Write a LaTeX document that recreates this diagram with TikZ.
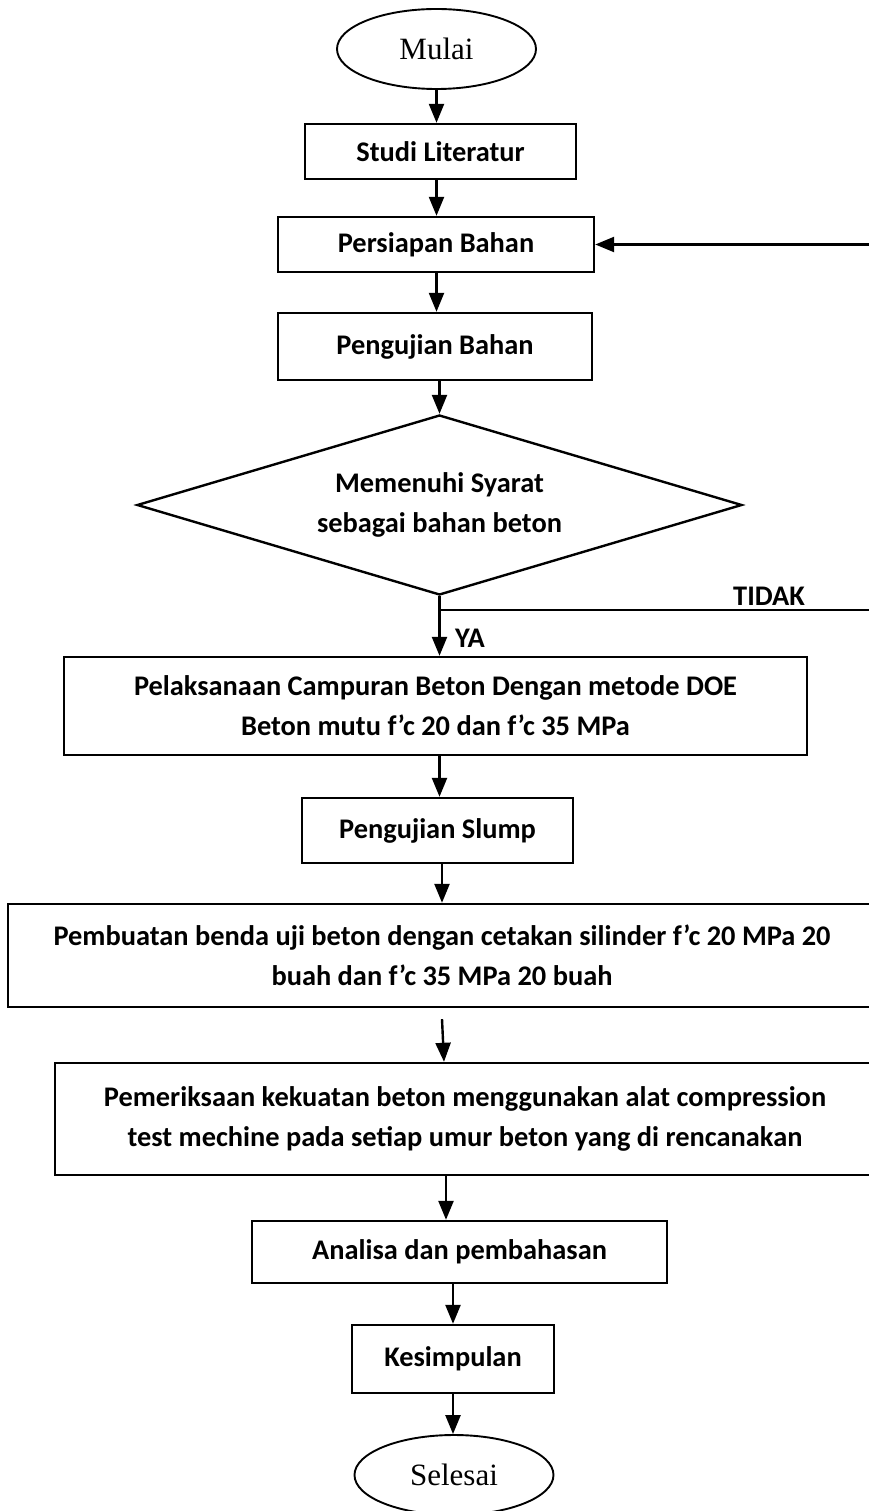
\documentclass[tikz,border=0pt]{standalone}
\usepackage{fontspec}
\setmainfont{Carlito}
\newfontfamily\ujungfont{Liberation Serif}
\usetikzlibrary{arrows.meta}
\usetikzlibrary{shapes.geometric}
\usetikzlibrary{positioning}

\begin{document}
\begin{tikzpicture}[x=1pt,y=-1pt,line width=2.4pt,>={Triangle[length=19pt,width=15pt]},
    proses/.style={draw,rectangle,inner sep=0pt,align=center,
      font=\fontsize{28.4}{40}\selectfont\bfseries},
    ujung/.style={draw,ellipse,line width=1.9pt,inner sep=0pt,minimum width=199pt,minimum height=80pt,
      font=\fontsize{31}{36}\selectfont\ujungfont},
    label/.style={inner sep=0pt,font=\fontsize{28.4}{32}\selectfont\bfseries}]
    \useasboundingbox (0,0) rectangle (868,1511);

    \node[ujung] (mulai) at (436.5,49) {Mulai};
    \node[proses,minimum width=271pt,minimum height=55pt] (studi) at (440.5,151.5) {Studi Literatur};
    \node[proses,minimum width=316pt,minimum height=55pt] (persiapan) at (436,244.5) {Persiapan Bahan};
    \node[proses,minimum width=314pt,minimum height=67pt] (pengujian) at (435,346.5) {Pengujian Bahan};
    \node[draw,diamond,inner sep=0pt,aspect=3.36,minimum width=605pt,minimum height=180pt,align=center,
      font=\fontsize{28.4}{40}\selectfont\bfseries] (syarat) at (439.5,505) {Memenuhi Syarat\\sebagai bahan beton};
    \node[proses,minimum width=743pt,minimum height=98pt] (pelaksanaan) at (435.5,706)
      {Pelaksanaan Campuran Beton Dengan metode DOE\\Beton mutu f’c 20 dan f’c 35 MPa};
    \node[proses,minimum width=271pt,minimum height=65pt] (slump) at (437.5,830.5) {Pengujian Slump};
    \node[proses,minimum width=868pt,minimum height=103pt] (pembuatan) at (442,955.5)
      {Pembuatan benda uji beton dengan cetakan silinder f’c 20 MPa 20\\buah dan f’c 35 MPa 20 buah};
    \node[proses,minimum width=820pt,minimum height=112pt] (pemeriksaan) at (465,1119)
      {Pemeriksaan kekuatan beton menggunakan alat compression\\test mechine pada setiap umur beton yang di rencanakan};
    \node[proses,minimum width=415pt,minimum height=62pt] (analisa) at (459.5,1252) {Analisa dan pembahasan};
    \node[proses,minimum width=202pt,minimum height=68pt] (kesimpulan) at (453,1359) {Kesimpulan};
    \node[ujung] (selesai) at (454,1475) {Selesai};

    \coordinate (cabang) at (440,610);
    \coordinate (tepi) at (874,610);
    \node[label] (tidak) at (769,596) {TIDAK};
    \node[label,anchor=west] (ya) at (454,638) {YA};

    \draw[->] (mulai.south) -- (mulai.south |- studi.north);
    \draw[->] (studi.south -| mulai) -- (persiapan.north -| mulai);
    \draw[->] (persiapan.south -| mulai) -- (pengujian.north -| mulai);
    \draw[->] (pengujian.south -| syarat) -- (syarat.north);
    \draw[->] (syarat.south) -- (syarat.south |- pelaksanaan.north);
    \draw (cabang) -- (tepi);
    \draw[->] (tepi) |- (persiapan.east);
    \draw[->] (pelaksanaan.south -| syarat) -- (slump.north -| syarat);
    \draw[->] (slump.south -| pembuatan) -- (pembuatan.north);
    \draw[->] ([yshift=-11pt]pembuatan.south) -- ([xshift=2pt]pembuatan.south |- pemeriksaan.north);
    \draw[->] (pemeriksaan.south -| 446,0) -- (analisa.north -| 446,0);
    \draw[->] (analisa.south -| kesimpulan) -- (kesimpulan.north);
    \draw[->] (kesimpulan.south) -- (kesimpulan.south |- selesai.north);
\end{tikzpicture}
\end{document}
